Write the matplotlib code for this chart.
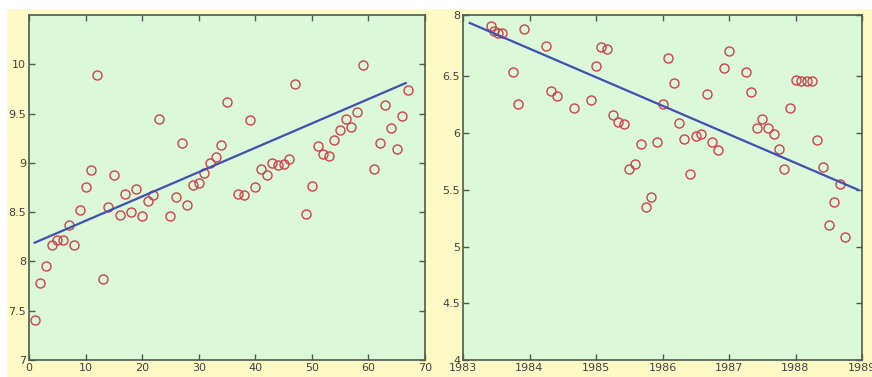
import matplotlib
matplotlib.use("Agg")
import matplotlib.pyplot as plt
from matplotlib.patches import Rectangle

# ---------------- data: left panel ----------------
left_x = [1, 2, 3, 4, 5, 6, 7, 8, 9, 10, 11, 12, 13, 14, 15, 16, 17, 18, 19, 20,
          21, 22, 23, 25, 26, 27, 28, 29, 30, 31, 32, 33, 34, 35, 37, 38, 39, 40,
          41, 42, 43, 44, 45, 46, 47, 49, 50, 51, 52, 53, 54, 55, 56, 57, 58, 59,
          61, 62, 63, 64, 65, 66, 67]
left_y = [7.41, 7.78, 7.95, 8.17, 8.22, 8.22, 8.37, 8.17, 8.52, 8.76, 8.93, 9.89,
          7.82, 8.55, 8.88, 8.47, 8.68, 8.50, 8.73, 8.46, 8.61, 8.67, 9.44, 8.46,
          8.65, 9.20, 8.57, 8.78, 8.80, 8.90, 9.00, 9.06, 9.18, 9.62, 8.68, 8.67,
          9.43, 8.76, 8.94, 8.88, 9.00, 8.98, 8.99, 9.04, 9.80, 8.48, 8.77, 9.17,
          9.09, 9.07, 9.23, 9.33, 9.44, 9.36, 9.52, 9.99, 8.94, 9.20, 9.59, 9.35,
          9.14, 9.48, 9.74]
left_fit_x = [1, 66.6]
left_fit_y = [8.19, 9.81]
left_xticks = [0, 10, 20, 30, 40, 50, 60, 70]
left_yticks = [7, 7.5, 8, 8.5, 9, 9.5, 10]
left_yticklabels = ["7", "7.5", "8", "8.5", "9", "9.5", "10"]

# ---------------- data: right panel ----------------
right_x = [1983.42, 1983.47, 1983.52, 1983.58, 1983.75, 1983.83, 1983.92,
           1984.25, 1984.33, 1984.42, 1984.67, 1984.92, 1985.00, 1985.08, 1985.17,
           1985.25, 1985.33, 1985.42, 1985.50, 1985.58, 1985.67, 1985.75, 1985.83,
           1985.92, 1986.00, 1986.08, 1986.17, 1986.25, 1986.33, 1986.42, 1986.50,
           1986.58, 1986.67, 1986.75, 1986.83, 1986.92, 1987.00, 1987.25, 1987.33,
           1987.42, 1987.50, 1987.58, 1987.67, 1987.75, 1987.83, 1987.92, 1988.00,
           1988.08, 1988.17, 1988.25, 1988.33, 1988.42, 1988.50, 1988.58, 1988.67,
           1988.75]
right_y = [6.94, 6.90, 6.88, 6.88, 6.54, 6.26, 6.92,
           6.77, 6.37, 6.33, 6.22, 6.29, 6.59, 6.76, 6.74,
           6.16, 6.10, 6.08, 5.68, 5.73, 5.90, 5.35, 5.44,
           5.92, 6.26, 6.66, 6.44, 6.09, 5.95, 5.64, 5.97,
           5.99, 6.34, 5.92, 5.85, 6.57, 6.72, 6.54, 6.36,
           6.04, 6.12, 6.04, 5.99, 5.86, 5.68, 6.22, 6.47,
           6.46, 6.46, 6.46, 5.94, 5.70, 5.19, 5.39, 5.55,
           5.08]
right_fit_x = [1983.10, 1988.94]
right_fit_y = [6.97, 5.50]
right_xticks = [1983, 1984, 1985, 1986, 1987, 1988, 1989]
right_xticklabels = ["1983", "1984", "1985", "1986", "1987", "1988", "1989"]
right_yticks = [4, 4.5, 5, 5.5, 6, 6.5, 7.04]
right_yticklabels = ["4", "4.5", "5", "5.5", "6", "6.5", "8"]

# ---------------- styling ----------------
YELLOW = "#fefac6"
GREEN = "#dbf8d9"
SPINE = "#4f5a4f"
MARKER = "#d0404a"
LINE = "#3f4fb5"
TEXT = "#404040"

W, H = 872, 377
fig = plt.figure(figsize=(W / 100, H / 100), dpi=100, facecolor="white")
fig.patches.append(Rectangle((7 / W, 0), 1 - 7 / W, 1 - 9 / H, transform=fig.transFigure,
                             facecolor=YELLOW, edgecolor="none", zorder=-10))


def style(ax):
    ax.set_facecolor(GREEN)
    for s in ax.spines.values():
        s.set_color(SPINE)
        s.set_linewidth(1.2)
    ax.tick_params(direction="in", top=True, right=True, length=4, width=1,
                   color=SPINE, labelsize=8, labelcolor=TEXT, pad=2)


axL = fig.add_axes([29 / W, 1 - 360 / H, (425 - 29) / W, (360 - 15) / H])
style(axL)
axL.plot(left_x, left_y, linestyle="none", marker="o", ms=6.5, mfc="none",
         mec=MARKER, mew=1.0, zorder=2)
axL.plot(left_fit_x, left_fit_y, color=LINE, lw=1.6, zorder=3)
axL.set_xlim(0, 70)
axL.set_ylim(7, 10.5)
axL.set_xticks(left_xticks)
axL.set_yticks(left_yticks)
axL.set_yticklabels(left_yticklabels)

axR = fig.add_axes([463 / W, 1 - 360 / H, (862 - 463) / W, (360 - 15) / H])
style(axR)
axR.plot(right_x, right_y, linestyle="none", marker="o", ms=6.5, mfc="none",
         mec=MARKER, mew=1.0, zorder=2)
axR.plot(right_fit_x, right_fit_y, color=LINE, lw=1.6, zorder=3)
axR.set_xlim(1983, 1989)
axR.set_ylim(4, 7.04)
axR.set_xticks(right_xticks)
axR.set_xticklabels(right_xticklabels)
axR.set_yticks(right_yticks)
axR.set_yticklabels(right_yticklabels)

fig.savefig("out.png", dpi=100, facecolor=fig.get_facecolor())
